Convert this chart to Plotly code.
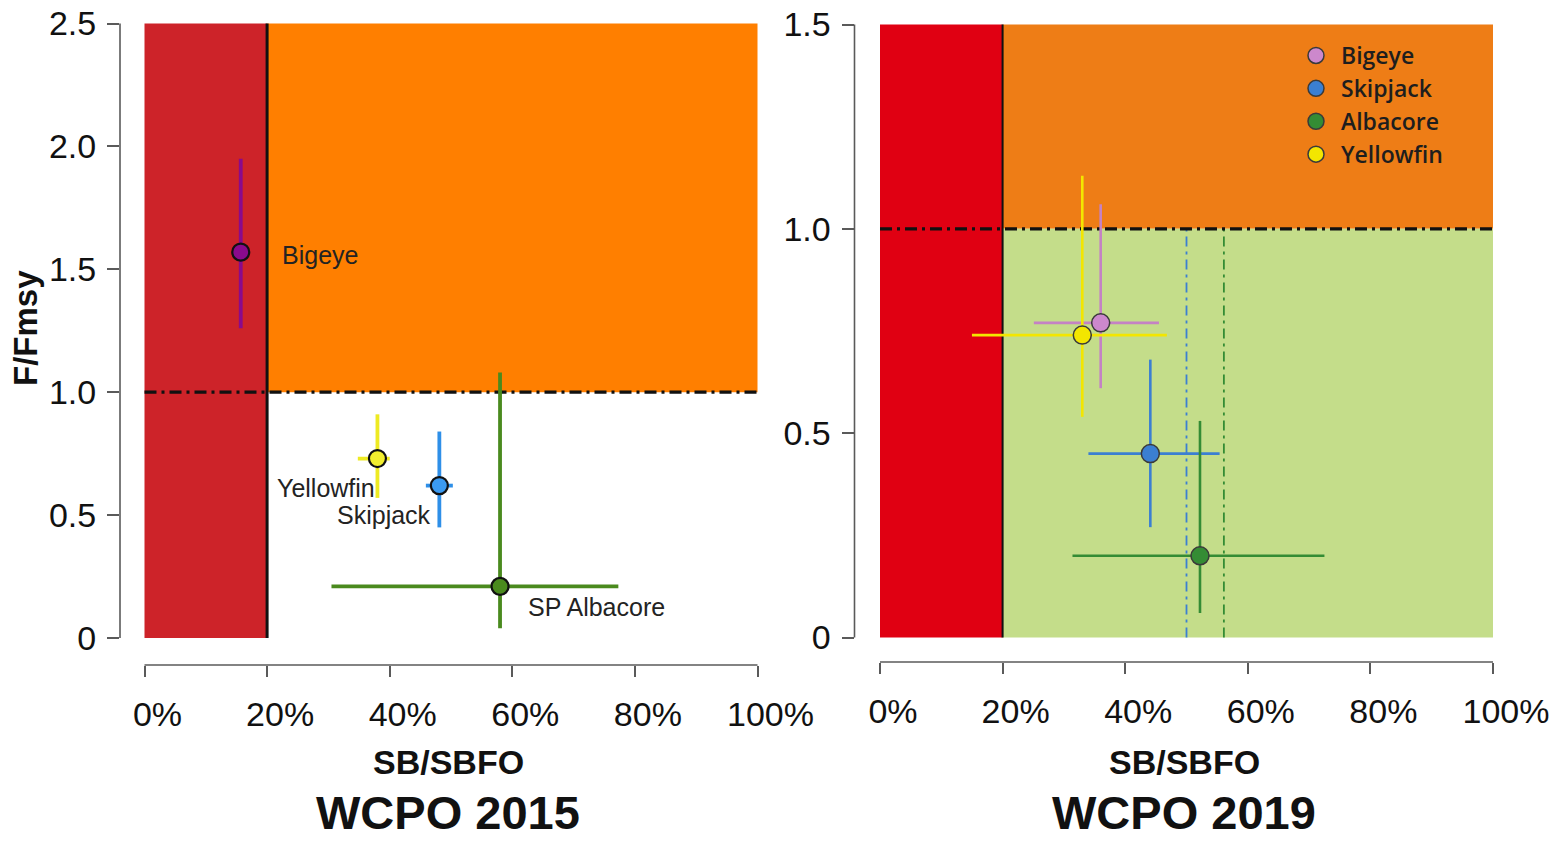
import plotly.graph_objects as go

# ---- WCPO 2015 stock status (SB/SBF=0 in %, F/Fmsy) ----
species_2015 = ["Bigeye", "Yellowfin", "Skipjack", "SP Albacore"]
sb_2015 = [15.7, 38.0, 48.1, 58.0]
sb_lo_2015 = [14.4, 34.8, 45.9, 30.5]
sb_hi_2015 = [17.2, 40.0, 50.3, 77.3]
f_2015 = [1.57, 0.73, 0.62, 0.21]
f_lo_2015 = [1.26, 0.57, 0.45, 0.04]
f_hi_2015 = [1.95, 0.91, 0.84, 1.08]
fill_2015 = ["#8a0a8c", "#f2ee2e", "#3b9af0", "#4a8a1e"]
bar_2015 = ["#8a0a8c", "#eeea22", "#2e8fe8", "#4a8a1e"]

# ---- WCPO 2019 stock status ----
species_2019 = ["Bigeye", "Skipjack", "Albacore", "Yellowfin"]
sb_2019 = [36.0, 44.1, 52.2, 33.0]
sb_lo_2019 = [25.1, 34.0, 31.4, 15.0]
sb_hi_2019 = [45.5, 55.4, 72.5, 46.8]
f_2019 = [0.77, 0.45, 0.20, 0.74]
f_lo_2019 = [0.61, 0.27, 0.06, 0.54]
f_hi_2019 = [1.06, 0.68, 0.53, 1.13]
fill_2019 = ["#cc88cc", "#3b7fd2", "#348c34", "#f3e600"]
bar_2019 = ["#c482c4", "#3b7fd2", "#348c34", "#f3e600"]

# reference SB/SBF=0 levels (dash-dot verticals) for skipjack and albacore
ref_sb_2019 = [50.0, 56.1]
ref_col_2019 = ["#3b7fd2", "#348c34"]

x_ticks = [0, 20, 40, 60, 80, 100]
x_ticktext = ["0%", "20%", "40%", "60%", "80%", "100%"]
y_ticks_2015 = [0, 0.5, 1.0, 1.5, 2.0, 2.5]
y_ticktext_2015 = ["0", "0.5", "1.0", "1.5", "2.0", "2.5"]
y_ticks_2019 = [0, 0.5, 1.0, 1.5]
y_ticktext_2019 = ["0", "0.5", "1.0", "1.5"]

W, H = 1561, 847


def span(edge_lo, edge_hi, p0, p1, v0, v1):
    """Axis range whose ends sit at pixel edges, given two reference pixels."""
    k = (v1 - v0) / (p1 - p0)
    return [v0 + (edge_lo - p0) * k, v0 + (edge_hi - p0) * k]


# pixel layout of the two panels
L = dict(xl=120, xr=772, x0=144.5, x100=757.5, yb=665, yt=12, y0=638, ytop=23.5, ymax=2.5)
R = dict(xl=854.5, xr=1506, x0=880, x100=1493, yb=662, yt=12, y0=637.5, ytop=24.5, ymax=1.5)

fig = go.Figure()


def add_points(xa, ya, names, sb, lo, hi, f, flo, fhi, fills, bars, thick, msize, mline, mwidth, legend):
    for i, n in enumerate(names):
        fig.add_trace(go.Scatter(
            x=[sb[i]], y=[f[i]], mode="markers", name=n, xaxis=xa, yaxis=ya,
            showlegend=legend,
            marker=dict(size=msize, color=fills[i], line=dict(color=mline, width=mwidth)),
            error_x=dict(type="data", symmetric=False, array=[hi[i] - sb[i]], arrayminus=[sb[i] - lo[i]],
                         width=0, thickness=thick, color=bars[i]),
            error_y=dict(type="data", symmetric=False, array=[fhi[i] - f[i]], arrayminus=[f[i] - flo[i]],
                         width=0, thickness=thick, color=bars[i]),
        ))


add_points("x", "y", species_2015, sb_2015, sb_lo_2015, sb_hi_2015, f_2015, f_lo_2015, f_hi_2015,
           fill_2015, bar_2015, 3.8, 17, "#111111", 2.2, False)
add_points("x2", "y2", species_2019, sb_2019, sb_lo_2019, sb_hi_2019, f_2019, f_lo_2019, f_hi_2019,
           fill_2019, bar_2019, 2.6, 18, "#3a3a3a", 1.5, True)

shapes = []
# 2015 zones
shapes.append(dict(type="rect", xref="x", yref="y", x0=0, x1=20, y0=0, y1=2.5,
                   fillcolor="#cd2329", line=dict(width=0), layer="below"))
shapes.append(dict(type="rect", xref="x", yref="y", x0=20, x1=100, y0=1.0, y1=2.5,
                   fillcolor="#ff7f00", line=dict(width=0), layer="below"))
shapes.append(dict(type="line", xref="x", yref="y", x0=20, x1=20, y0=0, y1=2.5,
                   line=dict(color="#111111", width=3), layer="below"))
shapes.append(dict(type="line", xref="x", yref="y", x0=0, x1=100, y0=1.0, y1=1.0,
                   line=dict(color="#111111", width=3.2, dash="12px,5px,3px,5px"), layer="below"))
# 2019 zones
shapes.append(dict(type="rect", xref="x2", yref="y2", x0=0, x1=20, y0=0, y1=1.5,
                   fillcolor="#e00012", line=dict(width=0), layer="below"))
shapes.append(dict(type="rect", xref="x2", yref="y2", x0=20, x1=100, y0=1.0, y1=1.5,
                   fillcolor="#ee7d16", line=dict(width=0), layer="below"))
shapes.append(dict(type="rect", xref="x2", yref="y2", x0=20, x1=100, y0=0, y1=1.0,
                   fillcolor="#c4dd8a", line=dict(width=0), layer="below"))
for xv, c in zip(ref_sb_2019, ref_col_2019):
    shapes.append(dict(type="line", xref="x2", yref="y2", x0=xv, x1=xv, y0=0, y1=1.0,
                       line=dict(color=c, width=1.8, dash="10px,5px,3px,5px"), layer="below"))
shapes.append(dict(type="line", xref="x2", yref="y2", x0=20, x1=20, y0=0, y1=1.5,
                   line=dict(color="#111111", width=2), layer="below"))
shapes.append(dict(type="line", xref="x2", yref="y2", x0=0, x1=100, y0=1.0, y1=1.0,
                   line=dict(color="#111111", width=3.2, dash="12px,5px,3px,5px"), layer="below"))

# detached axis lines spanning only the tick range
axis_col = "#5a5a5a"
for xa, ya, P in (("x", "y", L), ("x2", "y2", R)):
    shapes.append(dict(type="line", xref=xa, yref="paper", x0=0, x1=100,
                       y0=1 - P["yb"] / H, y1=1 - P["yb"] / H, line=dict(color=axis_col, width=1.6)))
    shapes.append(dict(type="line", xref="paper", yref=ya, x0=P["xl"] / W, x1=P["xl"] / W,
                       y0=0, y1=P["ymax"], line=dict(color=axis_col, width=1.6)))


def xaxis(P):
    return dict(domain=[P["xl"] / W, P["xr"] / W],
                range=span(P["xl"], P["xr"], P["x0"], P["x100"], 0, 100),
                tickvals=x_ticks, ticktext=x_ticktext, ticks="outside", ticklen=11, tickwidth=1.6,
                tickcolor=axis_col, showgrid=False, zeroline=False, showline=False, automargin=False,
                tickfont=dict(family="Liberation Sans, Arial", size=34, color="#111111"),
                ticklabelstandoff=8, ticklabelshift=13, fixedrange=True)


def yaxis(P, tv, tt):
    return dict(domain=[1 - P["yb"] / H, 1 - P["yt"] / H],
                range=span(P["yb"], P["yt"], P["y0"], P["ytop"], 0, P["ymax"]),
                tickvals=tv, ticktext=tt, ticks="outside", ticklen=12, tickwidth=1.6,
                tickcolor=axis_col, showgrid=False, zeroline=False, showline=False, automargin=False,
                tickfont=dict(family="Liberation Sans, Arial", size=34, color="#111111"),
                ticklabelstandoff=4, fixedrange=True)


annotations = []
# species labels for 2015 panel
lab_pos_2015 = {"Bigeye": (22.1, 1.56), "Yellowfin": (21.3, 0.61), "Skipjack": (31.1, 0.50),
                "SP Albacore": (62.2, 0.126)}
for n in species_2015:
    lx, ly = lab_pos_2015[n]
    annotations.append(dict(x=lx, y=ly, xref="x", yref="y", text=n, showarrow=False,
                            xanchor="left", yanchor="middle",
                            font=dict(family="Liberation Sans, Arial", size=25, color="#232323")))

title_font = dict(family="Liberation Sans, Arial", size=34, color="#111111", weight="bold")
for cx, year in ((448, "WCPO 2015"), (1184, "WCPO 2019")):
    annotations.append(dict(x=cx / W, y=1 - 762 / H, xref="paper", yref="paper", text="SB/SBFO",
                            showarrow=False, xanchor="center", yanchor="middle", font=title_font))
    annotations.append(dict(x=cx / W, y=1 - 812 / H, xref="paper", yref="paper", text=year,
                            showarrow=False, xanchor="center", yanchor="middle",
                            font=dict(family="Liberation Sans, Arial", size=47, color="#111111", weight="bold")))
annotations.append(dict(x=26 / W, y=1 - 328 / H, xref="paper", yref="paper", text="F/Fmsy",
                        showarrow=False, textangle=-90, xanchor="center", yanchor="middle",
                        font=dict(title_font, size=33)))

fig.update_layout(
    width=W, height=H, margin=dict(l=0, r=0, t=0, b=0, autoexpand=False),
    paper_bgcolor="white", plot_bgcolor="rgba(0,0,0,0)",
    xaxis=dict(xaxis(L), anchor="y"), yaxis=dict(yaxis(L, y_ticks_2015, y_ticktext_2015), anchor="x"),
    xaxis2=dict(xaxis(R), anchor="y2"), yaxis2=dict(yaxis(R, y_ticks_2019, y_ticktext_2019), anchor="x2"),
    shapes=shapes, annotations=annotations,
    legend=dict(x=1291 / W, y=1 - 34 / H, xanchor="left", yanchor="top", bgcolor="rgba(0,0,0,0)",
                font=dict(family="Open Sans, Noto Sans", size=23, color="#1e1e1e", weight=600),
                itemsizing="trace", itemwidth=40, tracegroupgap=0),
    showlegend=True,
)

fig.write_html("out.html", config={"displayModeBar": False})
